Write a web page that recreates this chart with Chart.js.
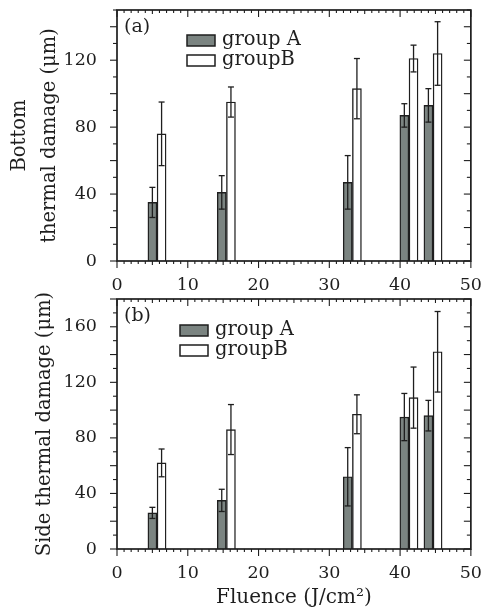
<!DOCTYPE html>
<html>
<head>
<meta charset="utf-8">
<script src="https://cdn.jsdelivr.net/npm/chart.js@4/dist/chart.umd.min.js"></script>
<style>
body{margin:0;background:#fff;width:488px;height:612px;overflow:hidden;position:relative}
.box{position:absolute;left:0;width:488px}
</style>
</head>
<body>
<div class="box" style="top:0;height:290px"><canvas id="chartA"></canvas></div>
<div class="box" style="top:290px;height:322px"><canvas id="chartB"></canvas></div>
<script>
// fluence positions of the bars (J/cm2)
var fluenceA = [5.0, 14.8, 32.6, 40.6, 44.0];
var fluenceB = [6.3, 16.1, 33.9, 41.9, 45.3];

// (a) bottom thermal damage (um)
var bottomA = [35, 41, 47, 87, 93];
var bottomAErr = [9, 10, 16, 7, 10];
var bottomB = [76, 95, 103, 121, 124];
var bottomBErr = [19, 9, 18, 8, 19];

// (b) side thermal damage (um)
var sideA = [26, 35, 52, 95, 96];
var sideAErr = [4, 8, 21, 17, 11];
var sideB = [62, 86, 97, 109, 142];
var sideBErr = [10, 18, 14, 22, 29];

var xLabels = [0, 10, 20, 30, 40, 50];

var serif = "'DejaVu Serif', serif";
var ink = '#1e1e1e';
var grayFill = '#7b8481';

function seg(ctx, x1, y1, x2, y2) {
	ctx.beginPath();
	ctx.moveTo(x1, y1);
	ctx.lineTo(x2, y2);
	ctx.stroke();
}

// frame with ticks on all four sides + panel tag
var frameTicks = {
	id: 'frameTicks',
	afterDraw: function(chart, args, opts) {
		var ctx = chart.ctx, a = chart.chartArea;
		var xs = chart.scales.x, ys = chart.scales.y;
		ctx.save();
		ctx.strokeStyle = ink;
		ctx.lineWidth = 1.1;
		xs.ticks.forEach(function(t) {
			var px = xs.getPixelForValue(t.value);
			var len = t.value % 10 === 0 ? 7 : (t.value % 5 === 0 ? 4 : 3);
			seg(ctx, px, a.bottom, px, a.bottom + len);
			seg(ctx, px, a.top, px, a.top + len);
		});
		ys.ticks.forEach(function(t) {
			var py = ys.getPixelForValue(t.value);
			var len = t.value % 20 === 0 ? 7 : 4;
			seg(ctx, a.left - len, py, a.left, py);
			seg(ctx, a.right - len, py, a.right, py);
		});
		ctx.lineWidth = 1.7;
		ctx.strokeRect(a.left, a.top, a.right - a.left, a.bottom - a.top);
		ctx.fillStyle = ink;
		ctx.font = '19px ' + serif;
		ctx.textAlign = 'left';
		ctx.textBaseline = 'middle';
		ctx.fillText(opts.tag, a.left + 7, a.top + 17);
		ctx.restore();
	}
};

// vertical error bars from each dataset's errors array
var errorBars = {
	id: 'errorBars',
	afterDatasetsDraw: function(chart) {
		var ctx = chart.ctx, ys = chart.scales.y;
		ctx.save();
		ctx.strokeStyle = ink;
		ctx.lineWidth = 1.3;
		chart.data.datasets.forEach(function(ds, di) {
			var meta = chart.getDatasetMeta(di);
			meta.data.forEach(function(bar, i) {
				var v = ds.data[i].y, e = ds.errors[i];
				var top = ys.getPixelForValue(v + e);
				var bot = ys.getPixelForValue(v - e);
				seg(ctx, bar.x, top, bar.x, bot);
				seg(ctx, bar.x - 3, top, bar.x + 3, top);
				seg(ctx, bar.x - 3, bot, bar.x + 3, bot);
			});
		});
		ctx.restore();
	}
};

// legend drawn inside the plot area
var boxLegend = {
	id: 'boxLegend',
	afterDraw: function(chart, args, opts) {
		var ctx = chart.ctx, a = chart.chartArea;
		ctx.save();
		ctx.font = '19.5px ' + serif;
		ctx.textAlign = 'left';
		ctx.textBaseline = 'middle';
		chart.data.datasets.forEach(function(ds, i) {
			var bx = a.left + opts.dx, by = a.top + opts.dy + i * 20;
			ctx.fillStyle = ds.backgroundColor;
			ctx.fillRect(bx, by, 28, 11);
			ctx.strokeStyle = ink;
			ctx.lineWidth = 1.5;
			ctx.strokeRect(bx, by, 28, 11);
			ctx.fillStyle = ink;
			ctx.fillText(ds.label, bx + 35, by + 5);
		});
		ctx.restore();
	}
};

function points(xs, ys) {
	return xs.map(function(x, i) { return {x: x, y: ys[i]}; });
}

function makeChart(id, cfg) {
	var ctx = document.getElementById(id);
	return new Chart(ctx, {
		type: 'bar',
		data: {
			datasets: [
				{
					label: 'group A',
					data: points(fluenceA, cfg.a),
					errors: cfg.aErr,
					backgroundColor: grayFill,
					borderColor: ink,
					borderWidth: 1.4,
					barThickness: 9,
					grouped: false
				},
				{
					label: 'groupB',
					data: points(fluenceB, cfg.b),
					errors: cfg.bErr,
					backgroundColor: '#ffffff',
					borderColor: ink,
					borderWidth: 1.4,
					barThickness: 9,
					grouped: false
				}
			]
		},
		options: {
			responsive: true,
			maintainAspectRatio: false,
			animation: false,
			layout: { padding: { top: cfg.top, right: 12, left: 0, bottom: 0 } },
			plugins: {
				legend: { display: false },
				tooltip: { enabled: false },
				frameTicks: { tag: cfg.tag },
				boxLegend: { dx: cfg.legDx, dy: cfg.legDy }
			},
			scales: {
				x: {
					type: 'linear',
					min: 0,
					max: 50,
					offset: false,
					grid: { display: false },
					border: { display: false },
					ticks: {
						stepSize: 1,
						autoSkip: false,
						maxRotation: 0,
						padding: 6,
						color: ink,
						font: { family: serif, size: 17.5 },
						callback: function(v) { return xLabels.indexOf(v) >= 0 ? v : ''; }
					},
					title: {
						display: cfg.xTitle !== '',
						text: cfg.xTitle,
						color: ink,
						font: { family: serif, size: 20 },
						padding: { top: 2, bottom: 2 }
					},
					afterFit: function(s) { s.height = cfg.xHeight; }
				},
				y: {
					min: 0,
					max: cfg.yMax,
					grid: { display: false },
					border: { display: false },
					ticks: {
						stepSize: 10,
						autoSkip: false,
						padding: 12,
						color: ink,
						font: { family: serif, size: 17.5 },
						callback: function(v) { return v % 40 === 0 ? v : ''; }
					},
					title: {
						display: true,
						text: cfg.yTitle,
						color: ink,
						font: { family: serif, size: 19.5, lineHeight: 1.55 },
						padding: { top: cfg.yTitlePad, bottom: 0 }
					},
					afterFit: function(s) {
						s.width = 117;
						s.paddingTop = 0;
						s.paddingBottom = 0;
					}
				}
			}
		},
		plugins: [errorBars, frameTicks, boxLegend]
	});
}

makeChart('chartA', {
	a: bottomA, aErr: bottomAErr, b: bottomB, bErr: bottomBErr,
	yMax: 150, tag: '(a)', top: 10, xHeight: 29, xTitle: '',
	yTitle: ['Bottom', 'thermal damage (\u03bcm)'], yTitlePad: 5,
	legDx: 70, legDy: 25
});

makeChart('chartB', {
	a: sideA, aErr: sideAErr, b: sideB, bErr: sideBErr,
	yMax: 180, tag: '(b)', top: 9, xHeight: 63, xTitle: 'Fluence (J/cm\u00b2)',
	yTitle: 'Side thermal damage (\u03bcm)', yTitlePad: 30,
	legDx: 63, legDy: 26
});
</script>
</body>
</html>
